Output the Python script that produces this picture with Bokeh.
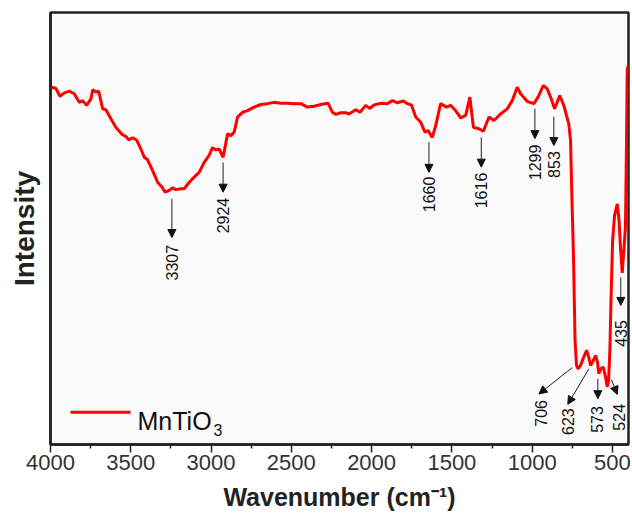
import math
from bokeh.plotting import figure
from bokeh.models import (Range1d, FixedTicker, Arrow, NormalHead, Label,
                          ColumnDataSource, LabelSet)
from bokeh.embed import file_html
from bokeh.resources import INLINE
from bokeh.core.properties import value

# ---------------- data ----------------
wavenumber = [4000, 3991, 3966, 3941, 3914, 3883, 3852, 3821, 3800, 3775, 3748,
              3737, 3717, 3700, 3675, 3655, 3624, 3592, 3555, 3530, 3513, 3488,
              3464, 3437, 3416, 3395, 3364, 3333, 3306, 3286, 3261, 3240, 3219,
              3188, 3167, 3136, 3105, 3074, 3043, 3012, 2991, 2970, 2950, 2925,
              2897, 2877, 2856, 2835, 2804, 2773, 2732, 2690, 2648, 2607, 2566,
              2524, 2483, 2441, 2400, 2358, 2317, 2271, 2244, 2223, 2192, 2161,
              2141, 2099, 2072, 2037, 2010, 1985, 1954, 1933, 1902, 1870, 1839,
              1802, 1777, 1752, 1725, 1694, 1668, 1649, 1622, 1601, 1570, 1533,
              1508, 1477, 1445, 1414, 1388, 1366, 1332, 1304, 1269, 1238, 1197,
              1155, 1124, 1093, 1072, 1030, 989, 958, 931, 906, 881, 860, 828,
              803, 772, 761, 752, 742, 733, 724, 714, 699, 680, 661, 649, 636,
              620, 605, 593, 585, 571, 557, 545, 532, 524, 516, 509, 499, 487,
              470, 459, 450, 439, 429, 419, 413, 408, 404]
intensity = [82.6, 82.7, 82.4, 80.6, 81.4, 81.8, 81.2, 79.2, 79.6, 78.5, 80.0,
             82.1, 81.6, 81.8, 77.7, 77.5, 75.4, 73.4, 71.8, 71.3, 70.5, 71.0,
             70.5, 68.4, 66.5, 65.9, 63.4, 60.7, 59.6, 58.4, 58.8, 59.4, 59.0,
             59.2, 59.2, 60.7, 61.9, 63.0, 65.3, 66.9, 68.7, 68.2, 68.4, 66.5,
             71.9, 71.5, 72.3, 75.8, 76.9, 77.3, 78.1, 78.7, 78.9, 79.2, 79.0,
             79.0, 78.9, 78.9, 78.1, 78.3, 78.7, 79.0, 76.9, 76.4, 76.8, 76.8,
             76.5, 77.5, 76.9, 78.5, 77.8, 78.6, 78.9, 79.0, 78.9, 79.6, 79.1,
             79.5, 78.9, 78.6, 75.8, 74.6, 72.3, 72.7, 71.1, 73.8, 78.9, 78.1,
             78.5, 77.3, 75.6, 76.2, 80.4, 73.4, 73.1, 72.5, 75.8, 75.0, 76.5,
             77.7, 79.6, 82.7, 81.2, 79.4, 78.9, 80.8, 83.1, 82.3, 80.0, 77.7, 80.8,
             78.5, 74.2, 70.4, 56.5, 42.6, 24.1, 18.3, 17.5, 18.3, 20.1, 21.8, 20.4, 18.3,
             19.4, 20.6, 19.0, 16.4, 17.6, 17.9, 16.0, 13.4, 14.8, 21.8, 33.3, 47.2, 53.0,
             55.7, 51.9, 45.7, 39.7, 44.9, 50.3, 68.1, 86.6, 87.5]

peak_labels = ["3307", "2924", "1660", "1616", "1299", "853", "435",
               "706", "623", "573", "524"]
arrow_x_start = [3244, 2925, 1643, 1317, 983, 865, 448, 750, 647, 591, 506]
arrow_y_start = [56.9, 65.3, 70.0, 71.1, 77.7, 75.9, 38.7, 17.8, 17.5, 15.2, 15.0]
arrow_x_end = [3244, 2925, 1643, 1317, 983, 865, 448, 958, 778, 591, 470]
arrow_y_end = [47.9, 58.4, 63.0, 64.2, 70.8, 69.2, 32.2, 11.7, 9.3, 10.6, 11.6]
label_x = [3244, 2925, 1643, 1317, 983, 865, 447, 948, 778, 595, 462]
label_y = [42.1, 53.0, 57.9, 58.8, 65.3, 64.8, 25.7, 7.2, 5.3, 5.8, 6.3]

major_ticks = [4000, 3500, 3000, 2500, 2000, 1500, 1000, 500]
minor_ticks = [3750, 3250, 2750, 2250, 1750, 1250, 750]
series_name = "MnTiO"
series_sub = "3"
x_title = "Wavenumber (cm\u207b\u00b9)"
y_title = "Intensity"

X_START, X_END = 4000, 400
Y_MIN, Y_MAX = 0, 100

# ---------------- layout helpers (page pixels -> data) ----------------
W, H = 632, 516
BL, BR, BT, BB = 50, 4, 12, 72
FRAME_L = BL
FRAME_R = W - BR
FRAME_T = BT
FRAME_B = H - BB


def wx(px):
    return X_START - (px - FRAME_L) * (X_START - X_END) / (FRAME_R - FRAME_L)


def iy(py):
    return Y_MIN + (FRAME_B - py) * (Y_MAX - Y_MIN) / (FRAME_B - FRAME_T)


p = figure(width=W, height=H, output_backend="svg", toolbar_location=None,
           x_range=Range1d(X_START, X_END), y_range=Range1d(Y_MIN, Y_MAX),
           min_border_left=BL, min_border_right=BR, min_border_top=BT,
           min_border_bottom=BB)
p.background_fill_color = "#fafafa"
p.border_fill_color = "white"
p.outline_line_color = "#222222"
p.outline_line_width = 2.5
p.grid.visible = False

ax = p.xaxis[0]
ax.ticker = FixedTicker(ticks=major_ticks, minor_ticks=minor_ticks)
ax.axis_line_color = "#222222"
ax.axis_line_width = 2.5
ax.major_tick_out = 8
ax.major_tick_in = 0
ax.minor_tick_out = 4
ax.minor_tick_in = 0
ax.major_tick_line_color = "#222222"
ax.major_tick_line_width = 1.5
ax.minor_tick_line_color = "#222222"
ax.minor_tick_line_width = 1.5
ax.major_label_text_font = "Liberation Sans"
ax.major_label_text_font_size = "22px"
ax.major_label_text_color = "#333333"
ax.major_label_standoff = 2
ax.axis_label = x_title
ax.axis_label_text_font = "Liberation Sans"
ax.axis_label_text_font_style = "bold"
ax.axis_label_text_font_size = "25px"
ax.axis_label_text_color = "#222222"
ax.axis_label_standoff = 10

ay = p.yaxis[0]
ay.ticker = FixedTicker(ticks=[], minor_ticks=[])
ay.axis_line_color = "#222222"
ay.axis_line_width = 2.5
ay.major_tick_out = 0
ay.major_tick_in = 0
ay.minor_tick_out = 0
ay.minor_tick_in = 0
ay.major_label_standoff = 0
ay.axis_label = y_title
ay.axis_label_text_font = "Liberation Sans"
ay.axis_label_text_font_style = "bold"
ay.axis_label_text_font_size = "28px"
ay.axis_label_text_color = "#222222"
ay.axis_label_standoff = 11

p.line(wavenumber, intensity, line_color="#ff0000", line_width=3)

src = ColumnDataSource(dict(x0=arrow_x_start, y0=arrow_y_start,
                            x1=arrow_x_end, y1=arrow_y_end,
                            lx=label_x, ly=label_y, txt=peak_labels))
p.add_layout(Arrow(end=NormalHead(size=8, fill_color="#111111",
                                  line_color="#111111", line_width=1),
                   x_start="x0", y_start="y0", x_end="x1", y_end="y1",
                   source=src, line_color="#222222", line_width=1))
p.add_layout(LabelSet(x="lx", y="ly", text="txt", source=src, angle=math.pi / 2,
                      text_align="center", text_baseline="middle",
                      text_font=value("Liberation Sans"),
                      text_font_size=value("16px"), text_color="#111111"))

# legend (manual, for the subscript)
p.line([wx(70), wx(130)], [iy(411.7), iy(411.7)], line_color="#ff0000", line_width=3)
p.add_layout(Label(x=wx(137), y=iy(420), text=series_name, text_font="Liberation Sans",
                   text_font_size="25px", text_color="#111111",
                   text_align="left", text_baseline="alphabetic"))
p.add_layout(Label(x=wx(213), y=iy(429), text=series_sub, text_font="Liberation Sans",
                   text_font_size="16px", text_color="#111111",
                   text_align="left", text_baseline="alphabetic"))

open("out.html", "w").write(file_html(p, INLINE))
